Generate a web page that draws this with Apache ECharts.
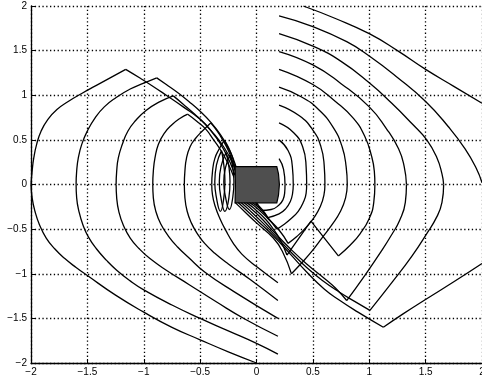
<!DOCTYPE html>
<html>
<head>
<meta charset="utf-8">
<script src="https://cdn.jsdelivr.net/npm/echarts@6/dist/echarts.min.js"></script>
<style>
    html, body { margin: 0; padding: 0; background: #fff; }
    #chart { width: 482px; height: 381px; }
</style>
</head>
<body>
<div id="chart"></div>
<script>
// axis ticks
const ticks = [-2, -1.5, -1, -0.5, 0, 0.5, 1, 1.5, 2];
const tickLabels = ['\u22122', '\u22121.5', '\u22121', '\u22120.5', '0', '0.5', '1', '1.5', '2'];

// left family: lower halves (bottom end -> leftmost point)
const L1low = [[0, -2], [-0.25, -1.875], [-0.5, -1.74], [-0.75, -1.6], [-1, -1.43], [-1.25, -1.24], [-1.5, -1.02],
    [-1.6, -0.93], [-1.7, -0.83], [-1.79, -0.72], [-1.865, -0.6], [-1.925, -0.45], [-1.965, -0.3], [-1.99, -0.15], [-2, 0]];
const L2low = [[0.19, -1.9], [0, -1.78], [-0.25, -1.64], [-0.5, -1.5], [-0.75, -1.35], [-1, -1.18], [-1.12, -1.08],
    [-1.24, -0.96], [-1.33, -0.85], [-1.42, -0.72], [-1.49, -0.59], [-1.54, -0.45], [-1.575, -0.3], [-1.595, -0.15], [-1.6, 0]];
const L3low = [[0.19, -1.7], [-0.1, -1.51], [-0.35, -1.32], [-0.6, -1.12], [-0.8, -0.96], [-0.945, -0.83], [-1.04, -0.72],
    [-1.12, -0.6], [-1.18, -0.46], [-1.22, -0.31], [-1.24, -0.15], [-1.245, 0]];
const L4low = [[0.19, -1.5], [-0.2, -1.2], [-0.46, -0.98], [-0.6, -0.82], [-0.7, -0.7], [-0.78, -0.58],
    [-0.85, -0.44], [-0.893, -0.3], [-0.915, -0.15], [-0.92, 0]];
const L5low = [[0.19, -1.3], [-0.05, -1.07], [-0.25, -0.89], [-0.37, -0.77], [-0.46, -0.66], [-0.525, -0.55],
    [-0.578, -0.43], [-0.615, -0.3], [-0.635, -0.15], [-0.64, 0]];
const L6low = [[0.19, -1.1], [0, -0.92], [-0.13, -0.78], [-0.21, -0.65], [-0.27, -0.52], [-0.325, -0.38],
    [-0.365, -0.25], [-0.39, -0.12], [-0.397, 0]];

// left family: upper halves (leftmost point -> peak)
const L1up = [[-2, 0], [-1.99, 0.15], [-1.975, 0.3], [-1.95, 0.45], [-1.91, 0.6], [-1.85, 0.73], [-1.77, 0.84],
    [-1.67, 0.93], [-1.55, 1.02], [-1.42, 1.11], [-1.29, 1.2], [-1.16, 1.29]];
const L2up = [[-1.6, 0], [-1.595, 0.15], [-1.58, 0.3], [-1.55, 0.45], [-1.5, 0.6], [-1.43, 0.75], [-1.35, 0.87],
    [-1.25, 0.97], [-1.12, 1.07], [-1.0, 1.135], [-0.885, 1.195]];
const L3up = [[-1.245, 0], [-1.24, 0.15], [-1.225, 0.3], [-1.19, 0.45], [-1.14, 0.6], [-1.07, 0.72], [-0.98, 0.83],
    [-0.87, 0.92], [-0.738, 0.993]];
const L4up = [[-0.92, 0], [-0.915, 0.15], [-0.9, 0.3], [-0.87, 0.45], [-0.82, 0.57], [-0.75, 0.67], [-0.68, 0.74], [-0.61, 0.788]];
const L5up = [[-0.64, 0], [-0.635, 0.15], [-0.62, 0.3], [-0.59, 0.42], [-0.545, 0.51], [-0.48, 0.6], [-0.406, 0.69]];
const L6up = [[-0.397, 0], [-0.39, 0.15], [-0.37, 0.29], [-0.33, 0.4], [-0.285, 0.497]];

// upper bundle: from each peak down to the block
const P1edge = [[-1.16, 1.29], [-1.03, 1.19], [-0.93, 1.11], [-0.8, 1.0], [-0.65, 0.87], [-0.5, 0.73], [-0.38, 0.57],
    [-0.29, 0.42], [-0.22, 0.26], [-0.17, 0.1]];
const P2edge = [[-0.885, 1.195], [-0.8, 1.12], [-0.7, 1.03], [-0.6, 0.93], [-0.5, 0.82], [-0.4, 0.69], [-0.32, 0.56],
    [-0.26, 0.43], [-0.21, 0.3], [-0.17, 0.15]];
const P3edge = [[-0.738, 0.993], [-0.65, 0.9], [-0.55, 0.79], [-0.45, 0.67], [-0.36, 0.53], [-0.29, 0.39],
    [-0.235, 0.25], [-0.19, 0.1]];
const P4edge = [[-0.61, 0.788], [-0.53, 0.71], [-0.45, 0.62], [-0.38, 0.5], [-0.31, 0.37], [-0.25, 0.23], [-0.2, 0.08]];
const P5edge = [[-0.406, 0.69], [-0.35, 0.6], [-0.3, 0.5], [-0.25, 0.38], [-0.21, 0.25], [-0.18, 0.1]];
const P6edge = [[-0.285, 0.497], [-0.25, 0.42], [-0.22, 0.33], [-0.2, 0.24], [-0.18, 0.12]];

// small lenses left of the block
const lens1 = [[-0.31, 0.38], [-0.355, 0.22], [-0.37, 0.03], [-0.355, -0.15], [-0.32, -0.3], [-0.29, -0.15],
    [-0.28, 0.03], [-0.29, 0.22], [-0.31, 0.38]];
const lens2 = [[-0.27, 0.36], [-0.315, 0.2], [-0.33, 0.03], [-0.315, -0.15], [-0.28, -0.3], [-0.245, -0.15],
    [-0.235, 0.03], [-0.245, 0.2], [-0.27, 0.36]];
const lens3 = [[-0.235, 0.33], [-0.275, 0.19], [-0.29, 0.03], [-0.275, -0.14], [-0.24, -0.28], [-0.21, -0.14],
    [-0.2, 0.03], [-0.21, 0.19], [-0.235, 0.33]];

// right family: upper halves (start at x = 0.2 -> y = 0)
const R10up = [[0.415, 2], [0.7, 1.86], [1.0, 1.69], [1.25, 1.5], [1.5, 1.29], [1.75, 1.1], [2.0, 0.91]];
const R9up = [[0.2, 1.89], [0.5, 1.77], [0.8, 1.6], [1.0, 1.44], [1.25, 1.2], [1.5, 0.93], [1.7, 0.65],
    [1.85, 0.4], [1.95, 0.18], [2.0, 0.02]];
const R8up = [[0.2, 1.69], [0.5, 1.55], [0.75, 1.38], [1.0, 1.14], [1.2, 0.91], [1.38, 0.68], [1.51, 0.5],
    [1.6, 0.3], [1.645, 0.12], [1.66, 0]];
const R7up = [[0.2, 1.49], [0.5, 1.34], [0.75, 1.13], [1.0, 0.87], [1.15, 0.63], [1.26, 0.4], [1.31, 0.2], [1.33, 0]];
const R6up = [[0.2, 1.29], [0.5, 1.12], [0.7, 0.93], [0.86, 0.74], [0.96, 0.54], [1.02, 0.32], [1.045, 0.15], [1.05, 0]];
const R5up = [[0.2, 1.09], [0.4, 0.98], [0.55, 0.84], [0.68, 0.64], [0.76, 0.42], [0.795, 0.2], [0.805, 0]];
const R4up = [[0.2, 0.89], [0.38, 0.77], [0.5, 0.61], [0.57, 0.43], [0.6, 0.22], [0.607, 0]];
const R3up = [[0.2, 0.69], [0.33, 0.58], [0.41, 0.42], [0.44, 0.2], [0.445, 0]];
const R2up = [[0.2, 0.5], [0.28, 0.38], [0.318, 0.2], [0.326, 0]];
const R1up = [[0.2, 0.29], [0.24, 0.17], [0.253, 0]];

// right family: lower halves (y = 0 -> corner)
const R9low = [[2.0, -0.885], [1.75, -1.09], [1.51, -1.28], [1.3, -1.45], [1.125, -1.6]];
const R8low = [[1.66, 0], [1.645, -0.2], [1.6, -0.36], [1.51, -0.55], [1.38, -0.8], [1.2, -1.1], [1.006, -1.41]];
const R7low = [[1.33, 0], [1.32, -0.2], [1.27, -0.4], [1.2, -0.56], [1.1, -0.76], [0.96, -1.02], [0.8, -1.3]];
const R6low = [[1.05, 0], [1.04, -0.2], [1.0, -0.38], [0.92, -0.55], [0.83, -0.68], [0.726, -0.8]];
const R5low = [[0.805, 0], [0.79, -0.15], [0.745, -0.3], [0.67, -0.45], [0.58, -0.6], [0.49, -0.75], [0.4, -0.88], [0.31, -1.0]];
const R4low = [[0.607, 0], [0.598, -0.12], [0.565, -0.25], [0.51, -0.37], [0.44, -0.48], [0.36, -0.58], [0.28, -0.66]];
const R3low = [[0.445, 0], [0.44, -0.1], [0.415, -0.2], [0.37, -0.3], [0.3, -0.39], [0.24, -0.45], [0.18, -0.5]];
const R2low = [[0.326, 0], [0.32, -0.1], [0.3, -0.19], [0.26, -0.27], [0.2, -0.33], [0.1, -0.37]];
const R1low = [[0.253, 0], [0.25, -0.09], [0.235, -0.17], [0.2, -0.23], [0.13, -0.28], [0.04, -0.29]];
const swallow = [[0.726, -0.8], [0.483, -0.41], [0.27, -0.79]];

// lower bundle: from the block down to the corners
const LBf = [[-0.19, -0.2], [-0.1, -0.31], [0.0, -0.43], [0.149, -0.6], [0.23, -0.75], [0.31, -1.0]];
const LBa = [[-0.165, -0.2], [-0.08, -0.3], [0.02, -0.42], [0.149, -0.575], [0.3, -0.78], [0.445, -0.98], [0.6, -1.17],
    [0.74, -1.3], [0.9, -1.43], [1.125, -1.6]];
const LBb = [[-0.14, -0.2], [-0.06, -0.29], [0.04, -0.41], [0.149, -0.55], [0.3, -0.75], [0.445, -0.93], [0.6, -1.09],
    [0.74, -1.21], [0.87, -1.31], [1.006, -1.41]];
const LBc = [[-0.115, -0.2], [-0.04, -0.28], [0.06, -0.4], [0.149, -0.525], [0.3, -0.72], [0.445, -0.89], [0.6, -1.05],
    [0.7, -1.16], [0.8, -1.3]];
const LBe = [[-0.09, -0.2], [-0.02, -0.27], [0.08, -0.39], [0.149, -0.5], [0.21, -0.62], [0.27, -0.79]];
const LB4 = [[-0.065, -0.2], [0.0, -0.26], [0.1, -0.38], [0.2, -0.51], [0.28, -0.66]];
const LB3 = [[-0.04, -0.2], [0.03, -0.27], [0.1, -0.37], [0.18, -0.5]];
const LB2 = [[-0.015, -0.2], [0.05, -0.28], [0.1, -0.37]];
const LB1 = [[0.0, -0.2], [0.04, -0.29]];

// dark block in the middle
const blockX = [-0.19, 0.18, 0.195, 0.203, 0.195, 0.18, -0.19, -0.187];
const blockY = [0.2, 0.2, 0.12, 0, -0.12, -0.205, -0.205, 0];

const smoothCurves = [L1low, L2low, L3low, L4low, L5low, L6low, L1up, L2up, L3up, L4up, L5up, L6up,
    R10up, R9up, R8up, R7up, R6up, R5up, R4up, R3up, R2up, R1up,
    R9low, R8low, R7low, R6low, R5low, R4low, R3low, R2low, R1low,
    P1edge, P2edge, P3edge, P4edge, P5edge, P6edge,
    LBf, LBa, LBb, LBc, LBe, LB4, LB3, LB2, LB1, lens1, lens2, lens3];
const straightCurves = [swallow];

const chart = echarts.init(document.getElementById('chart'));

const lineSeries = (data, smooth) => ({
    type: 'line',
    data: data,
    smooth: smooth,
    symbol: 'none',
    silent: true,
    animation: false,
    lineStyle: {color: '#000', width: 1.3},
    z: 2
});

const labelFor = (v) => {
    const i = ticks.findIndex(t => Math.abs(t - v) < 1e-9);
    return i >= 0 ? tickLabels[i] : '';
};

const axisCommon = {
    type: 'value',
    min: -2,
    max: 2,
    interval: 0.5,
    axisLine: {show: true, onZero: false, lineStyle: {color: '#000', width: 1.3}},
    axisTick: {show: true, inside: true, length: 4, lineStyle: {color: '#000'}},
    axisLabel: {
        color: '#000',
        fontFamily: 'Liberation Sans, Arial, sans-serif',
        fontSize: 10,
        margin: 4,
        showMinLabel: true,
        showMaxLabel: true,
        formatter: labelFor
    },
    splitLine: {show: true, lineStyle: {color: '#000', width: 1.3, type: [1.3, 2.5]}}
};

const option = {
    animation: false,
    backgroundColor: '#fff',
    grid: {left: 31, top: 6, width: 451, height: 357, outerBoundsMode: 'none', containLabel: false},
    xAxis: Object.assign({}, axisCommon, {position: 'bottom'}),
    yAxis: Object.assign({}, axisCommon, {position: 'left'}),
    series: [
        ...smoothCurves.map(c => lineSeries(c, 0.5)),
        ...straightCurves.map(c => lineSeries(c, false)),
        {
            type: 'custom',
            silent: true,
            animation: false,
            z: 10,
            data: [0],
            renderItem: (params, api) => {
                const pts = blockX.map((x, i) => api.coord([x, blockY[i]]));
                return {
                    type: 'polygon',
                    shape: {points: pts, smooth: 0},
                    style: {fill: '#4f4f4f', stroke: '#000', lineWidth: 1.2}
                };
            }
        }
    ]
};

chart.setOption(option);
</script>
</body>
</html>
